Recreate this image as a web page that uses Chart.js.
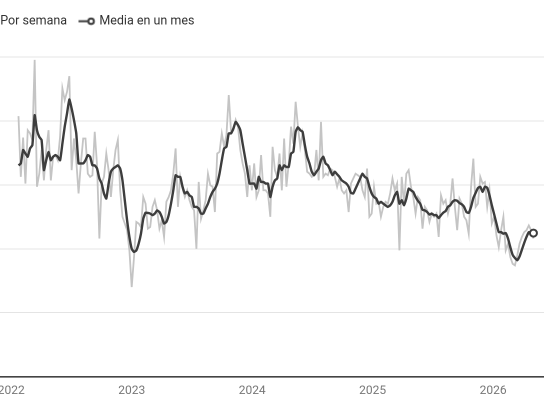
<!DOCTYPE html>
<html>
<head>
<meta charset="utf-8">
<script src="https://cdn.jsdelivr.net/npm/chart.js@4.4.1/dist/chart.umd.min.js"></script>
<style>
  html, body { margin: 0; padding: 0; background: #fff; overflow: hidden; width: 544px; height: 408px; }
  #wrap { position: absolute; left: -32px; top: 0; width: 632px; height: 408px; }
</style>
</head>
<body>
<div id="wrap"><canvas id="c" width="632" height="408"></canvas></div>
<script>
// ---- data ----
const seriesNames = ['Por semana', 'Media en un mes'];
const firstWeek = '2022-01-23';           // date of the first weekly observation
const yearTicks = [2022, 2023, 2024, 2025, 2026];

const weekly = [
  81.5, 62.5, 74.8, 60.4, 77.1, 76.1, 74.0, 99.1, 59.4, 63.5,
  70.9, 61.4, 70.9, 77.1, 61.4, 68.8, 69.3, 67.7, 75.0, 90.2,
  86.5, 89.1, 94.0, 64.6, 74.5, 67.7, 57.3, 66.7, 74.5, 74.5,
  63.5, 62.5, 63.0, 76.6, 66.1, 43.2, 60.4, 62.5, 69.8, 64.6,
  56.2, 64.6, 70.9, 74.0, 58.3, 50.0, 47.9, 45.8, 39.5, 28.0,
  37.4, 48.4, 47.9, 46.8, 56.2, 54.1, 46.3, 46.8, 53.1, 55.2,
  52.0, 46.3, 48.9, 43.7, 54.7, 56.2, 58.3, 63.5, 71.4, 53.1,
  62.5, 58.8, 56.2, 58.3, 55.2, 53.1, 52.0, 40.0, 60.9, 49.4,
  52.0, 55.2, 63.5, 59.9, 59.4, 51.5, 69.8, 70.3, 76.1, 71.9,
  75.6, 88.1, 76.6, 77.1, 80.3, 78.2, 70.9, 66.7, 63.5, 56.2,
  66.1, 58.3, 66.7, 56.2, 58.3, 69.3, 58.3, 58.3, 57.3, 50.0,
  71.9, 64.6, 62.5, 69.8, 58.3, 74.5, 59.4, 66.7, 78.2, 72.9,
  86.0, 78.2, 71.9, 76.1, 70.9, 64.1, 63.5, 62.5, 63.0, 70.9,
  61.4, 79.7, 62.5, 63.5, 63.0, 65.1, 64.6, 62.5, 59.4, 62.0,
  58.3, 57.3, 58.3, 51.5, 60.4, 62.0, 63.5, 63.0, 62.5, 58.3,
  56.2, 65.1, 50.0, 51.0, 59.4, 54.1, 54.7, 50.0, 53.1, 54.7,
  54.1, 57.3, 62.0, 58.3, 60.4, 39.5, 62.5, 54.1, 63.5, 64.6,
  59.4, 56.2, 51.0, 56.2, 55.2, 46.3, 53.1, 52.0, 48.4, 51.0,
  50.0, 51.0, 43.7, 56.7, 54.1, 55.2, 51.0, 54.1, 62.0, 53.1,
  45.8, 55.7, 54.1, 50.0, 48.9, 44.7, 59.4, 68.2, 53.1, 54.1,
  62.5, 60.4, 60.9, 53.1, 58.3, 47.9, 50.0, 44.2, 40.5, 45.8,
  50.0, 39.5, 41.6, 37.4, 35.3, 34.8, 37.9, 41.6, 43.7, 45.2,
  45.8, 47.3, 45.8, 43.2
];

const monthly = [
  66.1, 66.7, 70.9, 69.8, 68.8, 71.4, 72.4, 81.8, 77.1, 75.0,
  74.0, 64.6, 67.7, 70.3, 67.7, 68.8, 69.3, 68.8, 67.7, 72.9,
  78.2, 82.3, 86.7, 83.9, 80.3, 76.1, 66.7, 66.7, 66.7, 67.7,
  69.3, 68.8, 66.1, 66.1, 65.1, 62.0, 60.4, 57.3, 55.7, 60.4,
  64.1, 65.1, 65.6, 66.1, 65.1, 61.4, 55.2, 48.9, 43.7, 40.0,
  39.0, 39.5, 41.6, 44.7, 49.4, 51.3, 51.2, 51.0, 50.5, 51.0,
  52.0, 51.5, 50.0, 47.9, 48.4, 50.5, 54.1, 58.3, 63.0, 62.5,
  62.5, 59.4, 57.3, 57.8, 56.7, 56.2, 53.1, 53.1, 52.6, 51.0,
  51.0, 52.6, 54.1, 56.2, 57.8, 58.8, 60.4, 63.5, 67.7, 71.4,
  71.9, 76.1, 76.1, 77.6, 79.7, 78.7, 77.1, 72.9, 68.8, 64.6,
  60.4, 60.4, 60.4, 58.8, 62.5, 60.9, 60.9, 60.4, 60.4, 56.2,
  59.4, 61.4, 62.0, 66.1, 64.6, 66.1, 65.6, 65.6, 69.8, 70.3,
  76.6, 78.0, 77.1, 76.6, 72.4, 68.8, 66.7, 64.1, 63.0, 64.1,
  65.1, 67.7, 68.8, 66.7, 66.1, 64.6, 63.0, 64.1, 63.3, 62.5,
  61.4, 60.9, 60.4, 59.4, 57.5, 57.3, 58.8, 60.4, 62.0, 63.5,
  62.5, 62.0, 59.4, 57.3, 56.2, 55.7, 54.1, 54.7, 54.1, 53.6,
  53.1, 53.6, 54.7, 56.7, 57.8, 54.1, 55.2, 53.6, 55.7, 58.8,
  58.3, 57.8, 56.2, 55.0, 54.1, 52.2, 52.0, 51.5, 50.7, 51.0,
  50.5, 50.5, 49.6, 50.5, 51.3, 51.8, 53.1, 53.6, 54.7, 55.2,
  55.0, 54.3, 53.9, 53.1, 51.5, 51.2, 53.1, 55.9, 57.5, 59.0,
  59.4, 57.8, 59.4, 59.1, 56.7, 53.6, 50.8, 47.9, 45.2, 45.2,
  44.7, 44.9, 43.2, 40.5, 38.1, 37.1, 36.4, 37.6, 39.7, 41.8,
  43.7, 45.2, 44.9, 44.9
];

// ---- helpers ----
function decimalYear(ms) {
  const d = new Date(ms);
  const y = d.getUTCFullYear();
  const s = Date.UTC(y, 0, 1), e = Date.UTC(y + 1, 0, 1);
  return y + (ms - s) / (e - s);
}
const t0 = Date.parse(firstWeek + 'T00:00:00Z');
const weekX = weekly.map((_, i) => decimalYear(t0 + i * 7 * 86400000));
const toPoints = arr => arr.map((v, i) => ({ x: weekX[i], y: v }));

function legendMarker(color) {
  const c = document.createElement('canvas');
  c.width = 17; c.height = 9;
  const g = c.getContext('2d');
  g.strokeStyle = color; g.lineWidth = 2;
  g.beginPath(); g.moveTo(0, 4.5); g.lineTo(10, 4.5); g.stroke();
  g.fillStyle = '#fff';
  g.beginPath(); g.arc(12.5, 4.5, 2.8, 0, Math.PI * 2); g.fill(); g.stroke();
  return c;
}

const GRAY = '#c4c4c4';
const DARK = '#3d3d3d';
const lastIdx = monthly.length - 1;

const legendGap = {
  id: 'legendGap',
  beforeInit(chart) {
    const origFit = chart.legend.fit;
    chart.legend.fit = function () {
      origFit.bind(chart.legend)();
      this.height += 19.5;
    };
  }
};

new Chart(document.getElementById('c'), {
  type: 'line',
  data: {
    datasets: [
      {
        label: seriesNames[0],
        data: toPoints(weekly),
        borderColor: GRAY,
        borderWidth: 1.8,
        pointRadius: 0,
        tension: 0,
        order: 2
      },
      {
        label: seriesNames[1],
        data: toPoints(monthly),
        borderColor: DARK,
        borderWidth: 2.4,
        pointRadius: ctx => (ctx.dataIndex === lastIdx ? 3.5 : 0),
        pointBackgroundColor: '#fff',
        pointBorderColor: DARK,
        pointBorderWidth: 2,
        tension: 0.15,
        order: 1
      }
    ]
  },
  options: {
    responsive: false,
    animation: false,
    devicePixelRatio: 2,
    layout: { padding: { top: 1, bottom: 3, left: 0, right: 0 } },
    plugins: {
      tooltip: { enabled: false },
      legend: {
        position: 'top',
        align: 'start',
        labels: {
          usePointStyle: true,
          pointStyleWidth: 12,
          padding: 14,
          color: '#333',
          font: { family: 'Roboto', size: 12.5 },
          generateLabels(chart) {
            return chart.data.datasets.map((ds, i) => ({
              text: ds.label,
              pointStyle: legendMarker(i === 0 ? GRAY : DARK),
              fillStyle: ds.borderColor,
              strokeStyle: ds.borderColor,
              lineWidth: 0,
              hidden: false,
              datasetIndex: i,
              fontColor: '#333'
            }));
          }
        }
      }
    },
    scales: {
      x: {
        type: 'linear',
        min: 2021.691,
        max: 2026.837,
        grid: { display: false, drawTicks: false },
        border: { display: true, color: '#444', width: 1.6 },
        afterBuildTicks(scale) { scale.ticks = yearTicks.map(v => ({ value: v })); },
        ticks: {
          color: '#777',
          font: { family: 'Roboto', size: 12 },
          padding: 7,
          maxRotation: 0,
          autoSkip: false,
          callback: v => String(v)
        }
      },
      y: {
        min: 0,
        max: 100,
        grid: { color: '#e4e4e4', lineWidth: 1, drawTicks: false },
        border: { display: false },
        ticks: { display: false, stepSize: 20 }
      }
    }
  },
  plugins: [legendGap]
});
</script>
</body>
</html>
